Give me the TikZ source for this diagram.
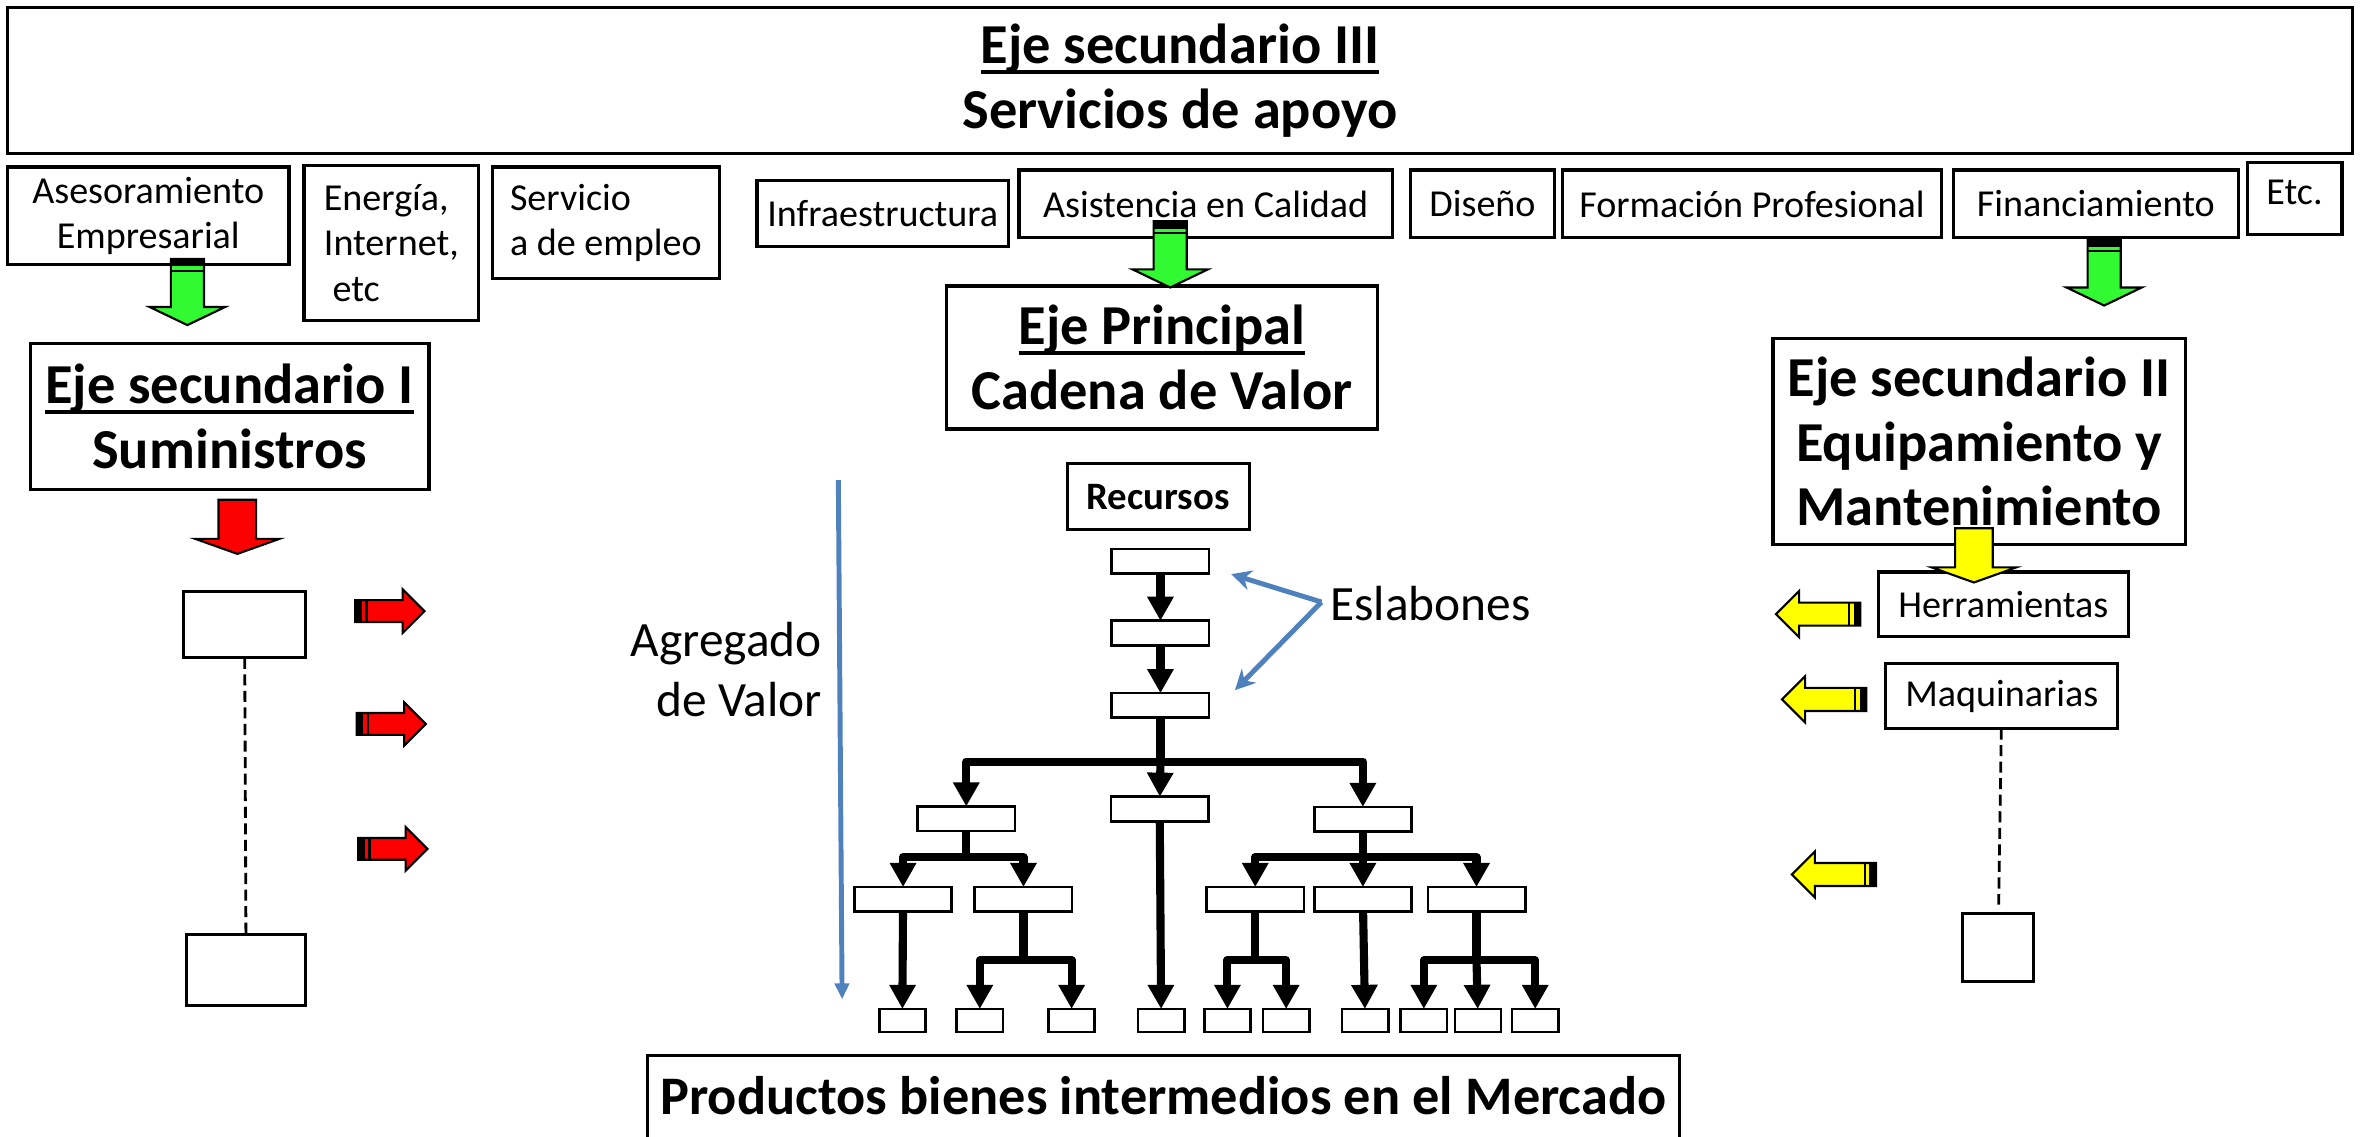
\documentclass[tikz,border=0pt]{standalone}
\usepackage{fontspec}
\setmainfont{Carlito}
\usetikzlibrary{arrows.meta}

\definecolor{arrowgreen}{RGB}{50,250,50}
\definecolor{arrowred}{RGB}{250,0,0}
\definecolor{arrowyellow}{RGB}{255,255,0}
\definecolor{linkblue}{RGB}{79,129,189}

\newlength{\ejeulw}
\newcommand{\ejeul}[1]{\settowidth{\ejeulw}{#1}\rlap{\rule[-3pt]{\ejeulw}{1.2pt}}#1}

\begin{document}
\begin{tikzpicture}[
            x=0.15mm, y=-0.15mm,
            every node/.style={inner sep=0pt, outer sep=0pt},
            box/.style={rectangle, draw, line width=0.9pt, align=center, font=\fontsize{10.8}{12.8}\selectfont},
            bigbox/.style={rectangle, draw, line width=0.9pt, align=center, font=\fontsize{16}{18.3}\selectfont\bfseries},
            plainbox/.style={rectangle, draw, line width=0.9pt},
            link/.style={rectangle, draw, line width=0.75pt, minimum width=9.7mm, minimum height=2.45mm},
            leaf/.style={rectangle, draw, line width=0.75pt, minimum width=4.6mm, minimum height=2.3mm},
            plaintext/.style={font=\fontsize{14}{17}\selectfont},
            treeline/.style={draw, line width=2.3pt, line join=round},
            treearrow/.style={treeline, -{Triangle[length=2.4mm, width=2.5mm]}},
            bluearrow/.style={draw=linkblue, line width=1.4pt, -{Stealth[length=2mm, width=2mm]}},
            valuearrow/.style={draw=linkblue, line width=1.4pt, -{Triangle[length=1.6mm, width=1.4mm]}},
            dotline/.style={draw, line width=0.8pt, dash pattern=on 1.1mm off 0.55mm},
            pics/banddown/.style={code={
                \filldraw[fill=#1, line width=0.6pt] (-11,0) -- (11,0) -- (11,32) -- (25,32) -- (0,44) -- (-25,32) -- (-11,32) -- cycle;
                \fill (-11,0) rectangle (11,5);
                \draw[line width=0.6pt] (-11,8) -- (11,8);
            }},
            pics/plaindown/.style={code={
                \filldraw[fill=#1, line width=0.6pt] (-12.5,0) -- (12.5,0) -- (12.5,26) -- (28,26) -- (0,36) -- (-28,26) -- (-12.5,26) -- cycle;
            }},
            pics/bandside/.style n args={3}{code={
                \filldraw[fill=#1, line width=0.6pt] (0,{-#3/2}) -- ({#2-#3},{-#3/2}) -- ({#2-#3},-#3) -- (#2,0) -- ({#2-#3},#3) -- ({#2-#3},{#3/2}) -- (0,{#3/2}) -- cycle;
                \fill (0,{-#3/2}) rectangle (4.5,{#3/2});
                \draw[line width=0.6pt] (7.5,{-#3/2}) -- (7.5,{#3/2});
            }}
        ]
            \useasboundingbox (0,0) rectangle (1568,755);

            % --- Support services ---
            \node[bigbox, minimum width=233.7mm, minimum height=14.55mm] (apoyo) at (784,53.5) {\ejeul{Eje secundario III}\\Servicios de apoyo};

            \node[box, minimum width=28.05mm, minimum height=9.75mm] (aseso) at (98.5,143.5) {Asesoramiento\\Empresarial};
            \node[box, align=left, minimum width=17.4mm, minimum height=15.45mm] (energia) at (260,161.5) {Energía,\\Internet,\\\ etc};
            \node[box, align=left, minimum width=22.65mm, minimum height=11.1mm] (servicio) at (402.5,148) {Servicio\\a de empleo};
            \node[box, minimum width=25.05mm, minimum height=6.6mm] (infra) at (586.5,142) {Infraestructura};
            \node[box, minimum width=37.2mm, minimum height=6.75mm] (asist) at (801,135.5) {Asistencia en Calidad};
            \node[box, minimum width=14.4mm, minimum height=6.75mm] (diseno) at (985,135.5) {Diseño};
            \node[box, minimum width=37.8mm, minimum height=6.75mm] (formacion) at (1164,135.5) {Formación Profesional};
            \node[box, minimum width=28.35mm, minimum height=6.75mm] (financ) at (1392.5,135.5) {Financiamiento};
            \node[box, minimum width=9.45mm, minimum height=7.2mm, text depth=1.2mm] (etcbox) at (1524.5,132) {Etc.};

            % --- The three axes ---
            \node[bigbox, minimum width=39.75mm, minimum height=14.55mm] (eje1) at (152.5,276.5) {\ejeul{Eje secundario I}\\Suministros};
            \node[bigbox, minimum width=42.9mm, minimum height=14.25mm] (ejeppal) at (772,237.5) {\ejeul{Eje Principal}\\Cadena de Valor};
            \node[bigbox, minimum width=41.1mm, minimum height=20.55mm] (eje2) at (1315,293.5) {Eje secundario II\\Equipamiento y\\Mantenimiento};

            % --- Supplies (left) ---
            \node[plainbox, minimum width=12.15mm, minimum height=6.6mm] (supa) at (162.5,415) {};
            \node[plainbox, minimum width=11.85mm, minimum height=7.05mm] (supb) at (163.5,644.5) {};
            \draw[dotline] (supa) -- (supb);

            % --- Equipment (right) ---
            \node[box, minimum width=24.9mm, minimum height=6.45mm] (herram) at (1331,401.5) {Herramientas};
            \node[box, minimum width=23.1mm, minimum height=6.45mm] (maquin) at (1330,462.5) {Maquinarias};
            \node[plainbox, minimum width=7.05mm, minimum height=6.75mm] (equipo) at (1327.5,629.5) {};
            \draw[dotline, shorten >=0.9mm] (maquin) -- (equipo);

            % --- Value chain ---
            \node[rectangle, draw, line width=0.9pt, minimum width=18.15mm, minimum height=6.6mm, font=\fontsize{11}{13}\selectfont\bfseries] (recursos) at (769.5,330) {Recursos};
            \node[link] (l1) at (771,373) {};
            \node[link] (l2) at (771,420.6) {};
            \node[link] (l3) at (771,468.7) {};

            \node[link] (m1) at (642,544) {};
            \node[link] (m2) at (770.5,537.5) {};
            \node[link] (m3) at (905.5,544.3) {};

            \node[link] (n1) at (600,597.5) {};
            \node[link] (n2) at (680,597.5) {};
            \node[link] (n3) at (834,597.5) {};
            \node[link] (n4) at (905.5,597.5) {};
            \node[link] (n5) at (981,597.5) {};

            \node[leaf] (p1) at (599.5,678) {};
            \node[leaf] (p2) at (651,678) {};
            \node[leaf] (p3) at (712,678) {};
            \node[leaf] (p4) at (771.5,678) {};
            \node[leaf] (p5) at (815.5,678) {};
            \node[leaf] (p6) at (854.5,678) {};
            \node[leaf] (p7) at (907,678) {};
            \node[leaf] (p8) at (946,678) {};
            \node[leaf] (p9) at (982,678) {};
            \node[leaf] (p10) at (1020,678) {};

            \coordinate (bar1) at (771,506);
            \coordinate (bar2) at (642,569.5);
            \coordinate (bar3) at (905.5,569.5);
            \coordinate (bar4) at (680,638);
            \coordinate (bar5) at (834,638);
            \coordinate (bar6) at (981,638);

            \draw[treearrow] (l1) -- (l2);
            \draw[treearrow] (l2) -- (l3);
            \draw[treeline] (l3) -- (bar1);
            \draw[treearrow] (bar1) -| (m1);
            \draw[treearrow] (bar1) -- (m2);
            \draw[treearrow] (bar1) -| (m3);

            \draw[treeline] (m1) -- (bar2);
            \draw[treearrow] (bar2) -| (n1);
            \draw[treearrow] (bar2) -| (n2);
            \draw[treearrow] (n1) -- (p1);
            \draw[treeline] (n2) -- (bar4);
            \draw[treearrow] (bar4) -| (p2);
            \draw[treearrow] (bar4) -| (p3);

            \draw[treearrow] (m2) -- (p4);

            \draw[treeline] (m3) -- (bar3);
            \draw[treearrow] (bar3) -| (n3);
            \draw[treearrow] (bar3) -- (n4);
            \draw[treearrow] (bar3) -| (n5);
            \draw[treeline] (n3) -- (bar5);
            \draw[treearrow] (bar5) -| (p5);
            \draw[treearrow] (bar5) -| (p6);
            \draw[treearrow] (n4) -- (p7);
            \draw[treeline] (n5) -- (bar6);
            \draw[treearrow] (bar6) -| (p8);
            \draw[treearrow] (bar6) -- (p9);
            \draw[treearrow] (bar6) -| (p10);

            % Links label
            \node[plaintext, anchor=west] (eslab) at (884,401) {Eslabones};
            \coordinate (eslv) at (878,400);
            \coordinate (esl1) at (818,381.5);
            \coordinate (esl3) at (820.5,458.5);
            \draw[bluearrow] (eslv) -- (esl1);
            \draw[bluearrow] (eslv) -- (esl3);

            % Added value
            \node[plaintext, align=right, anchor=east] (agreg) at (546,445) {Agregado\\de Valor};
            \coordinate (agtop) at (557,319);
            \coordinate (agbot) at (559.5,664);
            \draw[valuearrow] (agtop) -- (agbot);

            % Market
            \node[bigbox, anchor=north, minimum width=102.9mm, inner ysep=1.9mm, text height=4mm, text depth=7mm, font=\fontsize{15.4}{18}\selectfont\bfseries] (productos) at (773,701) {Productos bienes intermedios en el Mercado};

            % --- Block arrows ---
            \pic at (124.5,172) {banddown=arrowgreen};
            \pic at (777.5,147) {banddown=arrowgreen};
            \pic at (1398,159) {banddown=arrowgreen};
            \pic at (157.7,332) {plaindown=arrowred};
            \pic at (1311.5,351) {plaindown=arrowyellow};

            \pic at (236,406) {bandside={arrowred}{46}{14.5}};
            \pic at (237,481) {bandside={arrowred}{46}{14.5}};
            \pic at (238,564) {bandside={arrowred}{46}{14.5}};

            \pic[xscale=-1] at (1236,408) {bandside={arrowyellow}{56}{15.3}};
            \pic[xscale=-1] at (1240,464.7) {bandside={arrowyellow}{56}{15.3}};
            \pic[xscale=-1] at (1246.5,581) {bandside={arrowyellow}{56}{15.3}};

        \end{tikzpicture}
\end{document}
